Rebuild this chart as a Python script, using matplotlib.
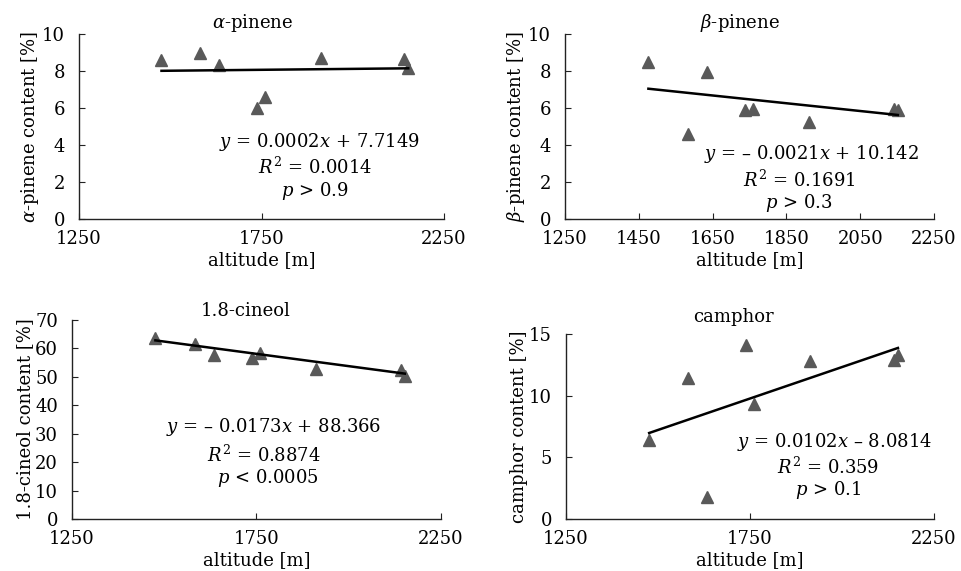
import numpy as np
import matplotlib
matplotlib.use("Agg")
import matplotlib.pyplot as plt

plt.rcParams["font.family"] = ["DejaVu Serif"]
plt.rcParams["mathtext.fontset"] = "dejavuserif"
plt.rcParams["font.size"] = 13

# altitude of the sampling sites [m]
altitude = [1476, 1582, 1634, 1738, 1760, 1912, 2141, 2152]

# content of each compound [%]
alpha_pinene = [8.58, 9.00, 8.30, 6.00, 6.60, 8.69, 8.63, 8.15]
beta_pinene = [8.47, 4.60, 7.96, 5.87, 5.94, 5.22, 5.94, 5.90]
cineol = [63.8, 61.4, 57.7, 56.8, 58.3, 52.8, 52.4, 50.3]
camphor = [6.38, 11.43, 1.76, 14.08, 9.35, 12.84, 12.92, 13.30]

# regression coefficients (slope, intercept) as printed on the chart
fits = [(0.0002, 7.7149), (-0.0021, 10.142), (-0.0173, 88.366), (0.0102, -8.0814)]

titles = [r"$\alpha$-pinene", r"$\beta$-pinene", "1.8-cineol", "camphor"]
ylabels = [r"$\alpha$-pinene content [%]", r"$\beta$-pinene content [%]",
           "1.8-cineol content [%]", "camphor content [%]"]
eq_lines = [
    [r"$y$ = 0.0002$x$ + 7.7149", r"$R^2$ = 0.0014", r"$p$ > 0.9"],
    [r"$y$ = – 0.0021$x$ + 10.142", r"$R^2$ = 0.1691", r"$p$ > 0.3"],
    [r"$y$ = – 0.0173$x$ + 88.366", r"$R^2$ = 0.8874", r"$p$ < 0.0005"],
    [r"$y$ = 0.0102$x$ – 8.0814", r"$R^2$ = 0.359", r"$p$ > 0.1"],
]
yticks = [[0, 2, 4, 6, 8, 10], [0, 2, 4, 6, 8, 10],
          [0, 10, 20, 30, 40, 50, 60, 70], [0, 5, 10, 15]]
xticks = [[1250, 1750, 2250], [1250, 1450, 1650, 1850, 2050, 2250],
          [1250, 1750, 2250], [1250, 1750, 2250]]
series = [alpha_pinene, beta_pinene, cineol, camphor]

W, H = 962, 571
# axes boxes in pixels: left, top, right, bottom
boxes = [(79, 34, 444, 219), (565, 34, 934, 219),
         (72, 320, 441, 519), (566, 334, 934, 519)]
title_pos = [(253, 23), (740, 23), (246, 311), (733, 317)]
eq_pos = [
    [(319, 142), (315, 167), (315, 191)],
    [(811, 154), (799, 180), (799, 203)],
    [(274, 427), (264, 455), (268, 478)],
    [(834, 442), (828, 467), (828, 490)],
]

fig = plt.figure(figsize=(W / 100, H / 100), dpi=100)

for i in range(4):
    l, t, r, b = boxes[i]
    ax = fig.add_axes([l / W, 1 - b / H, (r - l) / W, (b - t) / H])
    x = np.array(altitude)
    ax.plot(x, series[i], "^", color="#595959", ms=8.5, mec="#595959", zorder=2)
    k, c = fits[i]
    xs = np.array([min(altitude), max(altitude)])
    ax.plot(xs, k * xs + c, color="black", lw=1.8, zorder=3)

    ax.set_xlim(1250, 2250)
    ax.set_ylim(yticks[i][0], yticks[i][-1])
    ax.set_xticks(xticks[i])
    ax.set_yticks(yticks[i])
    ax.spines["top"].set_visible(False)
    ax.spines["right"].set_visible(False)
    for s in ["left", "bottom"]:
        ax.spines[s].set_color("#222222")
        ax.spines[s].set_linewidth(1.0)
    ax.tick_params(axis="x", direction="in", length=4, pad=8, color="#222222")
    ax.tick_params(axis="y", direction="in", length=4, pad=10, color="#222222")
    ax.set_xlabel("altitude [m]", labelpad=2)
    ax.set_ylabel(ylabels[i], labelpad=1)

    tx, ty = title_pos[i]
    fig.text(tx / W, 1 - ty / H, titles[i], ha="center", va="center")
    for (ex, ey), line in zip(eq_pos[i], eq_lines[i]):
        fig.text(ex / W, 1 - ey / H, line, ha="center", va="center")

fig.savefig("out.png", dpi=100)
